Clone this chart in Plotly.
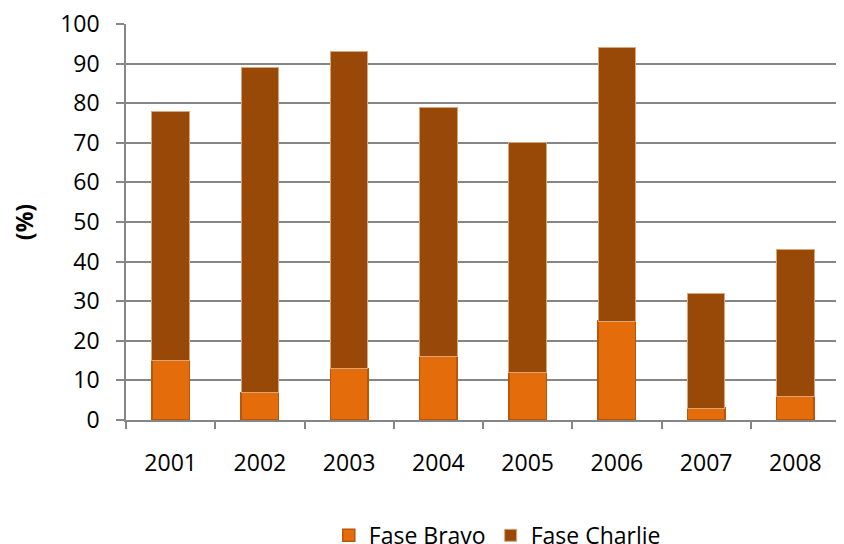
import plotly.graph_objects as go

years = ["2001", "2002", "2003", "2004", "2005", "2006", "2007", "2008"]
bravo = [15, 7, 13, 16, 12, 25, 3, 6]
charlie = [63, 82, 80, 63, 58, 69, 29, 37]
y_ticks = [0, 10, 20, 30, 40, 50, 60, 70, 80, 90, 100]

FONT = "Open Sans"
GRID = "#868686"
FS = 23

fig = go.Figure()
fig.add_trace(go.Bar(
    x=years, y=bravo, name="Fase Bravo",
    marker=dict(color="#E46C0A", line=dict(color="#B8560A", width=1.5)),
))
fig.add_trace(go.Bar(
    x=years, y=charlie, name="Fase Charlie",
    marker=dict(color="#984807", line=dict(color="#D9A77C", width=1)),
))

fig.update_layout(
    barmode="stack",
    bargap=0.58,
    width=836, height=536,
    margin=dict(l=118, r=4, t=16, b=124, autoexpand=False),
    paper_bgcolor="white", plot_bgcolor="white",
    font=dict(family=FONT, size=FS, color="#000000"),
    showlegend=True,
    legend=dict(
        orientation="h", x=0.52, xanchor="center",
        yref="paper", y=-0.237, yanchor="top",
        font=dict(family=FONT, size=FS),
        traceorder="normal",
        itemwidth=30, tracegroupgap=0,
    ),
)
fig.update_xaxes(
    type="category",
    tickson="boundaries",
    ticks="outside", ticklen=7, tickcolor=GRID, tickwidth=1.5,
    showline=True, linecolor=GRID, linewidth=1.5,
    showgrid=False,
    ticklabelstandoff=22,
    ticklabeloverflow="allow",
    range=[-0.5, 7.5],
)
fig.update_yaxes(
    range=[0, 100],
    tickvals=y_ticks,
    ticks="outside", ticklen=8, tickcolor=GRID, tickwidth=1.5,
    showline=True, linecolor=GRID, linewidth=1.5,
    showgrid=True, gridcolor=GRID, gridwidth=1.5,
    zeroline=False,
    ticklabelstandoff=12,
    ticklabeloverflow="allow",
    title=dict(text="<b>(%)</b>", standoff=22, font=dict(family=FONT, size=FS)),
)

fig.write_html("out.html")
